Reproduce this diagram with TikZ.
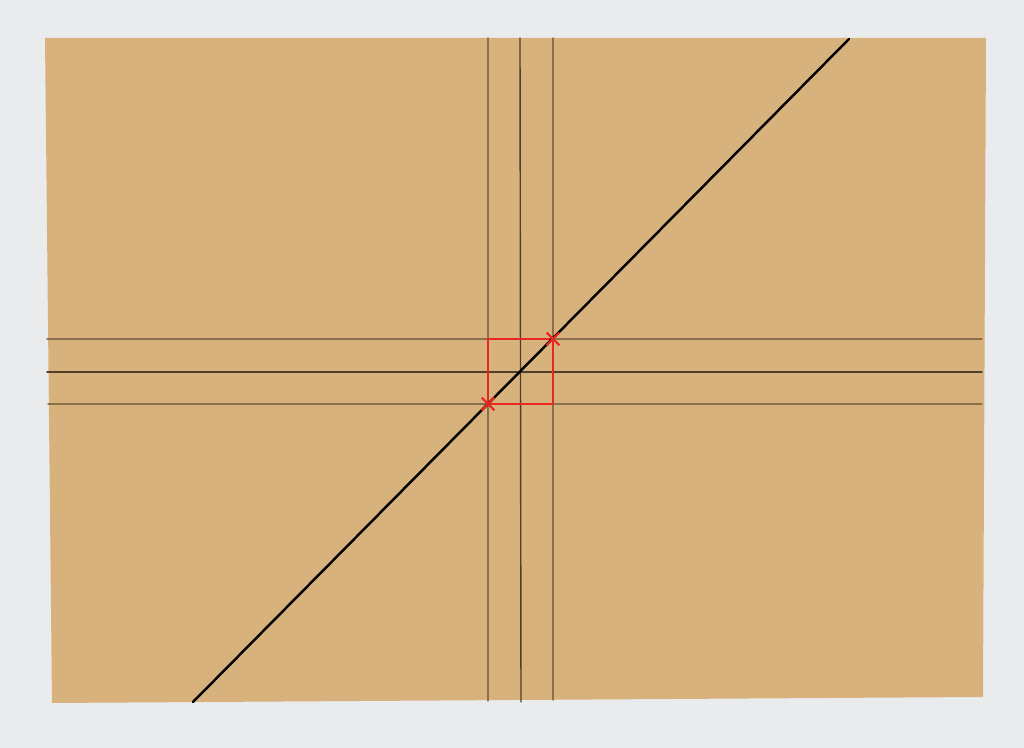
\documentclass[tikz,border=0pt]{standalone}
\usetikzlibrary{arrows,calc,shapes.misc}
\usepackage{tkz-euclide}
\definecolor{BackClr}{RGB}{234,235,236}
\definecolor{PaperClr}{RGB}{216,178,124}
\definecolor{GuideClr}{RGB}{140,112,76}
\definecolor{MidClr}{RGB}{80,62,42}
\definecolor{MarkClr}{RGB}{232,40,30}

\begin{document}
\begin{tikzpicture}
\useasboundingbox (0,0) rectangle (10.24,7.48);
\fill[BackClr] (0,0) rectangle (10.24,7.48);

\tkzSetUpLine[line width=0.4pt,color=GuideClr]

% Corners of the sheet.
\tkzDefPoints{0.45/7.10/S1,9.86/7.10/S2,9.83/0.51/S3,0.52/0.45/S4}

% Ends of the horizontal guides.
\tkzDefPoints{0.47/4.09/H1,9.82/4.09/H2,0.47/3.76/H3,9.82/3.76/H4,0.48/3.44/H5,9.82/3.44/H6}

% Ends of the vertical guides.
\tkzDefPoints{4.88/7.10/V1,4.88/0.47/V2,5.20/7.10/V3,5.21/0.46/V4,5.53/7.10/V5,5.53/0.48/V6}

% Ends of the diagonal.
\tkzDefPoints{1.93/0.46/D1,8.49/7.09/D2}

% Corners of the small square.
\tkzDefPoints{4.88/3.44/A,5.53/3.44/B,5.53/4.09/C,4.88/4.09/E}

\tkzFillPolygon[fill=PaperClr](S1,S2,S3,S4)

% Draw guides.
\tkzDrawSegments[line width=0.3pt,color=GuideClr](H1,H2 H5,H6 V1,V2 V5,V6)
\tkzDrawSegments[line width=0.4pt,color=MidClr](H3,H4 V3,V4)

% Draw square.
\tkzDrawPolygon[line width=0.45pt,color=MarkClr](A,B,C,E)

% Draw diagonal.
\tkzDrawSegment[line width=0.7pt,color=black](D1,D2)

\tkzDrawPoints[shape=cross out,size=3,line width=0.6pt,color=MarkClr](A,C)

\end{tikzpicture}
\end{document}
